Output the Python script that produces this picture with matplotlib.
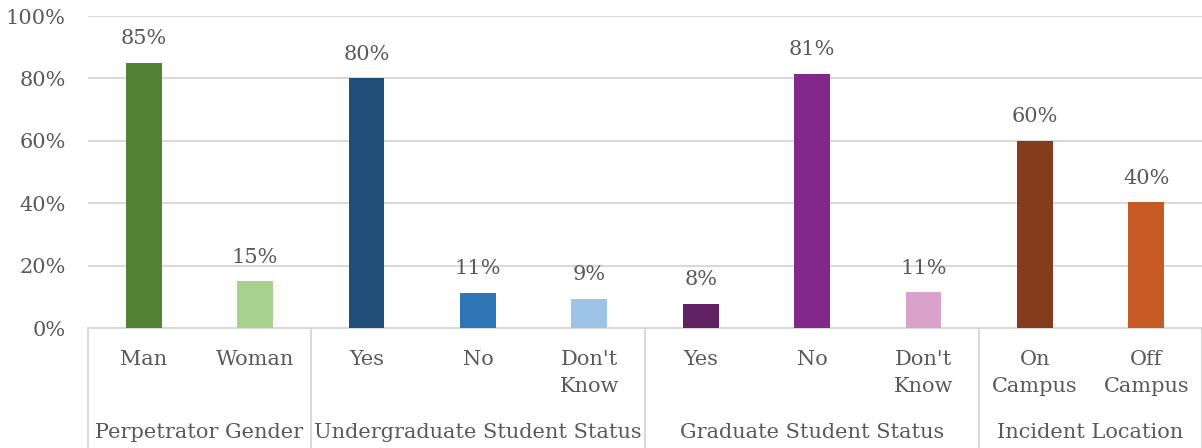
import matplotlib.pyplot as plt
from matplotlib.lines import Line2D

# categories and values
groups = ["Perpetrator Gender", "Undergraduate Student Status",
          "Graduate Student Status", "Incident Location"]
group_sizes = [2, 3, 3, 2]
labels = ["Man", "Woman", "Yes", "No", "Don't\nKnow",
          "Yes", "No", "Don't\nKnow", "On\nCampus", "Off\nCampus"]
values = [85, 15, 80, 11.2, 9.3, 7.7, 81.4, 11.4, 60, 40.3]
colors = ["#548235", "#a9d18e", "#1f4e79", "#2e75b6", "#9dc3e6",
          "#611f64", "#82288a", "#d9a2ca", "#843c1c", "#c55a24"]

txt = "#595959"
grid = "#d9d9d9"
fs = 15
plt.rcParams['font.family'] = ['DejaVu Serif']

fig = plt.figure(figsize=(12.02, 4.48), dpi=100)
ax = fig.add_axes([88 / 1202, 1 - 328 / 448, 1 - 88 / 1202, 312 / 448])

x = list(range(len(values)))
bars = ax.bar(x, values, width=0.32, color=colors, zorder=3)
for b, v in zip(bars, values):
    ax.annotate(f"{round(v)}%", (b.get_x() + b.get_width() / 2, v),
                xytext=(0, 10.5), textcoords="offset points",
                ha="center", va="bottom", fontsize=fs, color=txt)

ax.set_xlim(-0.5, len(values) - 0.5)
ax.set_ylim(0, 100)
ax.set_yticks(range(0, 101, 20))
ax.set_yticklabels([f"{t}%" for t in range(0, 101, 20)])
ax.tick_params(axis="y", length=0, pad=16, labelsize=fs, labelcolor=txt)
ax.set_xticks([])
ax.yaxis.grid(True, color=grid, linewidth=1.5, zorder=0)
for s in ["top", "right", "left"]:
    ax.spines[s].set_visible(False)
ax.spines["bottom"].set_color(grid)
ax.spines["bottom"].set_linewidth(1.5)

tr = ax.get_xaxis_transform()
for xi, lab in zip(x, labels):
    ax.text(xi, -0.07, lab, transform=tr, ha="center", va="top",
            fontsize=fs, color=txt, linespacing=1.55)

start = 0
bounds = [-0.5]
for g, n in zip(groups, group_sizes):
    mid = start + (n - 1) / 2
    ax.text(mid, -0.335, g, transform=tr, ha="center", va="center",
            fontsize=fs, color=txt)
    start += n
    bounds.append(start - 0.5)
for bx in bounds:
    ax.add_line(Line2D([bx, bx], [0, -0.39], transform=tr, color=grid,
                       linewidth=1.5, clip_on=False))

fig.savefig("out.png", dpi=100)
